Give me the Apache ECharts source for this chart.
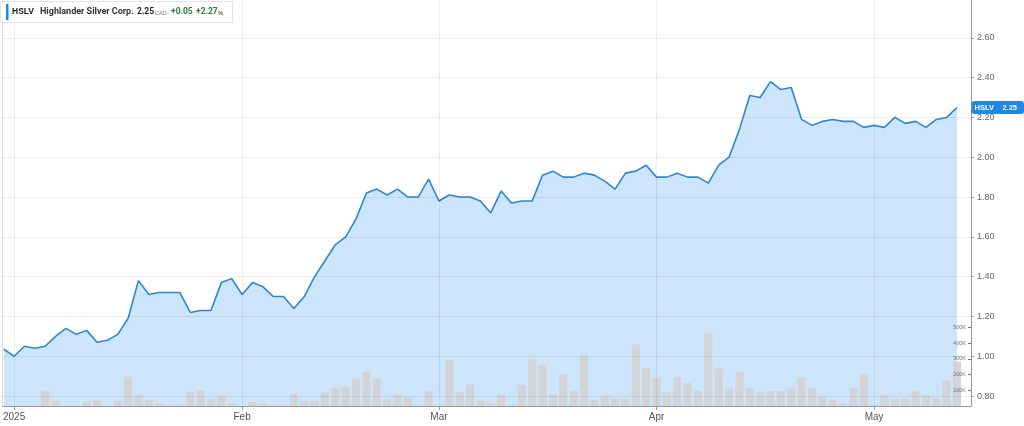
<!DOCTYPE html>
<html>
<head>
<meta charset="utf-8">
<script src="https://cdn.jsdelivr.net/npm/echarts@6/dist/echarts.min.js"></script>
<style>
html,body{margin:0;padding:0;background:#fff;}
#chart{width:1024px;height:426px;}
</style>
</head>
<body>
<div id="chart"></div>
<script>
const dates = [
  '2024-12-31',
  '2025-01-02','2025-01-03','2025-01-06','2025-01-07','2025-01-08','2025-01-09','2025-01-10','2025-01-13','2025-01-14','2025-01-15','2025-01-16','2025-01-17','2025-01-20','2025-01-21','2025-01-22','2025-01-23','2025-01-24','2025-01-27','2025-01-28','2025-01-29','2025-01-30','2025-01-31',
  '2025-02-03','2025-02-04','2025-02-05','2025-02-06','2025-02-07','2025-02-10','2025-02-11','2025-02-12','2025-02-13','2025-02-14','2025-02-18','2025-02-19','2025-02-20','2025-02-21','2025-02-24','2025-02-25','2025-02-26','2025-02-27','2025-02-28',
  '2025-03-03','2025-03-04','2025-03-05','2025-03-06','2025-03-07','2025-03-10','2025-03-11','2025-03-12','2025-03-13','2025-03-14','2025-03-17','2025-03-18','2025-03-19','2025-03-20','2025-03-21','2025-03-24','2025-03-25','2025-03-26','2025-03-27','2025-03-28','2025-03-31',
  '2025-04-01','2025-04-02','2025-04-03','2025-04-04','2025-04-07','2025-04-08','2025-04-09','2025-04-10','2025-04-11','2025-04-14','2025-04-15','2025-04-16','2025-04-17','2025-04-21','2025-04-22','2025-04-23','2025-04-24','2025-04-25','2025-04-28','2025-04-29','2025-04-30',
  '2025-05-01','2025-05-02','2025-05-05','2025-05-06','2025-05-07','2025-05-08','2025-05-09','2025-05-12','2025-05-13'
];
const prices = [
  1.035,
  1.00,1.05,1.04,1.05,1.10,1.14,1.11,1.13,1.07,1.08,1.11,1.19,1.38,1.31,1.32,1.32,1.32,1.22,1.23,1.23,1.37,1.39,
  1.31,1.37,1.35,1.30,1.30,1.24,1.30,1.40,1.48,1.56,1.60,1.69,1.82,1.84,1.81,1.84,1.80,1.80,1.89,
  1.78,1.81,1.80,1.80,1.78,1.72,1.83,1.77,1.78,1.78,1.91,1.93,1.90,1.90,1.92,1.91,1.88,1.84,1.92,1.93,1.96,
  1.90,1.90,1.92,1.90,1.90,1.87,1.96,2.00,2.14,2.31,2.30,2.38,2.34,2.35,2.19,2.16,2.18,2.19,2.18,2.18,2.15,
  2.16,2.15,2.20,2.17,2.18,2.15,2.19,2.20,2.25
];
const volumes = [
  0,
  0,0,0,98000,32000,0,0,25000,36000,0,34000,185000,74000,36000,17000,5000,8000,90000,97000,45000,66000,20000,
  0,25000,17000,6000,4000,76000,31000,31000,87000,113000,123000,176000,217000,172000,42000,74000,55000,6000,93000,
  3000,291000,87000,136000,34000,21000,72000,5000,134000,295000,261000,72000,202000,98000,321000,38000,66000,47000,45000,391000,242000,
  178000,87000,185000,146000,100000,459000,238000,110000,214000,117000,87000,96000,96000,113000,180000,113000,57000,38000,21000,117000,208000,
  6000,70000,47000,47000,98000,66000,47000,161000,282000
];
const priceTicks = [0.8, 1.0, 1.2, 1.4, 1.6, 1.8, 2.0, 2.2, 2.4, 2.6];
const volumeTicks = [100000, 200000, 300000, 400000, 500000];
const monthTickDates = ['2025-01-02', '2025-02-03', '2025-03-03', '2025-04-01', '2025-05-01'];
const monthTickLabels = ['2025', 'Feb', 'Mar', 'Apr', 'May'];
const symbol = 'HSLV';
const companyName = 'Highlander Silver Corp.';
const lastPrice = 2.25;
const currency = 'CAD';
const change = '+0.05';
const changePct = '+2.27';

const monthTickIdx = monthTickDates.map(d => dates.indexOf(d));
const priceData = prices.map((v, i) => [i, v]);
const volumeData = volumes.map((v, i) => [i, v]);
const FONT = 'Liberation Sans, Arial, sans-serif';
const RFONT = 'Roboto, Liberation Sans, Arial, sans-serif';
const GREEN = '#2e7d32';
const GRID = 'rgba(0,0,0,0.065)';

function txt(x, y, text, size, weight, color, font) {
  return {type: 'text', z: 101, x: x, y: y, style: {text: text, fontSize: size, fontWeight: weight, fill: color, fontFamily: font || FONT, verticalAlign: 'middle', align: 'left'}};
}

const chart = echarts.init(document.getElementById('chart'), null, {renderer: 'canvas'});
chart.setOption({
  animation: false,
  backgroundColor: '#ffffff',
  graphic: [
    {type: 'rect', z: 100, shape: {x: 0.5, y: 1.5, width: 232, height: 21}, style: {fill: '#ffffff', stroke: '#e3e3e3', lineWidth: 1}},
    {type: 'rect', z: 101, shape: {x: 6, y: 4, width: 2.5, height: 16}, style: {fill: '#1e88e5'}},
    txt(12, 12, symbol, 8.5, 'bold', '#222'),
    txt(40, 12, companyName, 9, 'bold', '#333', RFONT),
    txt(137, 12, lastPrice.toFixed(2), 8.5, 'bold', '#222', RFONT),
    txt(155, 13, currency, 5.5, 'normal', '#777'),
    txt(171, 12, change, 8.5, 'bold', GREEN, RFONT),
    txt(196, 12, changePct, 8.5, 'bold', GREEN, RFONT),
    txt(218, 13.5, '%', 6, 'bold', GREEN)
  ],
  grid: {left: 2, right: 53, top: 0, bottom: 20, containLabel: false},
  xAxis: {
    type: 'value',
    min: -0.1,
    max: 93.35,
    z: 10,
    axisLine: {show: true, onZero: false, lineStyle: {color: '#9a9a9a', width: 1}},
    axisTick: {show: true, customValues: monthTickIdx, length: 4, lineStyle: {color: '#9a9a9a'}},
    axisLabel: {
      customValues: monthTickIdx,
      formatter: v => monthTickLabels[monthTickIdx.indexOf(Math.round(v))] || '',
      color: '#555', fontSize: 10, fontFamily: FONT, margin: 6
    },
    splitLine: {show: true, lineStyle: {color: GRID, width: 1}}
  },
  yAxis: [
    {
      type: 'value', position: 'right', min: 0.75, max: 2.79, z: 10,
      axisLine: {show: true, onZero: false, lineStyle: {color: '#9a9a9a', width: 1}},
      axisTick: {show: true, customValues: priceTicks, length: 3, lineStyle: {color: '#9a9a9a'}},
      axisLabel: {customValues: priceTicks, formatter: v => v.toFixed(2), color: '#666', fontSize: 9, fontFamily: FONT, margin: 6},
      splitLine: {show: true, lineStyle: {color: GRID, width: 1}},
      axisPointer: {
        show: true, value: lastPrice, status: 'show', triggerTooltip: false,
        lineStyle: {opacity: 0},
        label: {
          show: true,
          formatter: () => symbol + '    ' + lastPrice.toFixed(2),
          backgroundColor: '#1e88e5', color: '#ffffff',
          fontSize: 7.5, fontWeight: 'bold', fontFamily: FONT,
          padding: [3, 7, 2, 3], margin: 1
        }
      }
    },
    {
      type: 'value', position: 'right', min: 0, max: 2578000, z: 11,
      axisLine: {show: false, onZero: false},
      axisTick: {show: true, inside: true, customValues: volumeTicks, length: 3, lineStyle: {color: '#777'}},
      axisLabel: {inside: true, customValues: volumeTicks, formatter: v => (v / 1000) + 'K', color: '#777', fontSize: 5.5, fontFamily: FONT, margin: 5},
      splitLine: {show: false}
    },
    {
      type: 'value', position: 'left', min: 0, max: 1,
      axisLine: {show: true, onZero: false, lineStyle: {color: '#dddddd', width: 1}},
      axisTick: {show: false}, axisLabel: {show: false}, splitLine: {show: false}
    }
  ],
  series: [
    {
      type: 'line', xAxisIndex: 0, yAxisIndex: 0, data: priceData,
      showSymbol: false, symbol: 'none', smooth: false, z: 2,
      lineStyle: {color: '#2f86d2', width: 1.6},
      areaStyle: {color: '#cce5fb', opacity: 1, origin: 'start'}
    },
    {
      type: 'bar', xAxisIndex: 0, yAxisIndex: 1, data: volumeData,
      barWidth: 8, z: 3,
      itemStyle: {color: '#d2d4d7'}
    }
  ]
});
</script>
</body>
</html>
